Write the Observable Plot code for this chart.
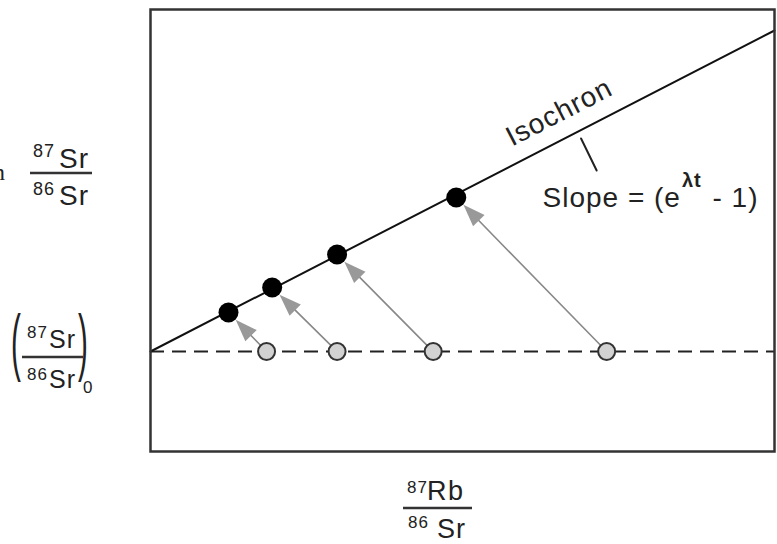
<!DOCTYPE html>
<html><head><meta charset="utf-8">
<script src="https://cdn.jsdelivr.net/npm/d3@7"></script>
<script src="https://cdn.jsdelivr.net/npm/@observablehq/plot@0.6"></script>
<style>
body{margin:0;background:#fff}
svg{display:block}
</style>
</head><body><div id="chart"></div>
<script>
// ---- data ----
const initialRatio = 0.70;                       // (87Sr/86Sr)0
const isoX = [0, 10];                            // isochron end points
const isoY = [0.70, 0.7321];
const rbSrInitial = [1.86, 2.99, 4.53, 7.31];    // open circles (t = 0)
const rbSrNow     = [1.25, 1.95, 2.99, 4.90];    // black points (today)
const srSrNow     = [0.7039, 0.7064, 0.7097, 0.7154];
const calloutX = [6.90, 7.15];                   // short pointer to "Isochron"
const calloutY = [0.7213, 0.7181];
const xDomain = [0, 10];
const yDomain = [0.69, 0.7342];

const isochron = isoX.map((x, i) => ({x, y: isoY[i]}));
const callout = calloutX.map((x, i) => ({x, y: calloutY[i]}));
const samples = rbSrInitial.map((x0, i) => ({x0, y0: initialRatio, x1: rbSrNow[i], y1: srSrNow[i]}));

const FONT = "'Liberation Sans', Arial, sans-serif";
const INK = "#222";

const heads = (index, scales) => {
  const g = d3.create("svg:g").attr("fill", "#999").attr("stroke", "none");
  for (const s of samples) {
    const ax = scales.x(s.x0), ay = scales.y(s.y0), bx = scales.x(s.x1), by = scales.y(s.y1);
    const L = Math.hypot(bx - ax, by - ay), ux = (bx - ax) / L, uy = (by - ay) / L;
    const tx = bx - ux * 11, ty = by - uy * 11;
    const cx = tx - ux * 22, cy = ty - uy * 22;
    const px = -uy * 8, py = ux * 8;
    g.append("polygon").attr("points", `${tx},${ty} ${cx + px},${cy + py} ${cx - px},${cy - py}`);
  }
  return g.node();
};

const chart = Plot.plot({
  width: 777,
  height: 544,
  marginLeft: 150,
  marginRight: 3,
  marginTop: 9,
  marginBottom: 93,
  x: {domain: xDomain, axis: null},
  y: {domain: yDomain, axis: null},
  style: {fontFamily: FONT, background: "#fff"},
  marks: [
    Plot.ruleY([initialRatio], {stroke: INK, strokeWidth: 2, strokeDasharray: "14,8"}),
    Plot.line(isochron, {x: "x", y: "y", stroke: "#111", strokeWidth: 2}),
    Plot.line(callout, {x: "x", y: "y", stroke: INK, strokeWidth: 2}),
    Plot.arrow(samples, {x1: "x0", y1: "y0", x2: "x1", y2: "y1", stroke: "#888", strokeWidth: 1.6,
      headLength: 0, insetStart: 8, insetEnd: 28}),
    heads,
    Plot.dot(samples, {x: "x0", y: "y0", r: 8.5, fill: "#d2d2d2", stroke: "#333", strokeWidth: 2}),
    Plot.dot(samples, {x: "x1", y: "y1", r: 10, fill: "#000", stroke: "none"}),
    Plot.frame({stroke: "#333", strokeWidth: 2.5})
  ]
});
document.getElementById("chart").append(chart);

const svg = d3.select(chart);
const xs = chart.scale("x"), ys = chart.scale("y");

function txt(x, y, s, size, extra = {}) {
  const t = svg.append("text").attr("x", x).attr("y", y).attr("font-size", size)
    .attr("font-family", extra.family ?? FONT).attr("fill", INK)
    .attr("letter-spacing", extra.ls ?? 1).attr("text-anchor", extra.anchor ?? "start").text(s);
  if (extra.transform) t.attr("transform", extra.transform);
  return t;
}
function bar(x1, x2, y) {
  svg.append("line").attr("x1", x1).attr("x2", x2).attr("y1", y).attr("y2", y)
    .attr("stroke", "#333").attr("stroke-width", 2.5);
}

// Isochron label, rotated along the line
const p0 = [xs.apply(isoX[0]), ys.apply(isoY[0])], p1 = [xs.apply(isoX[1]), ys.apply(isoY[1])];
const ang = Math.atan2(p1[1] - p0[1], p1[0] - p0[0]) * 180 / Math.PI;
const lx = 6.74, ly = isoY[0] + (isoY[1] - isoY[0]) * (lx - isoX[0]) / (isoX[1] - isoX[0]);
svg.append("text").attr("transform", `translate(${xs.apply(lx)},${ys.apply(ly)}) rotate(${ang})`)
  .attr("y", -16).attr("text-anchor", "middle").attr("font-size", 28).attr("letter-spacing", 1)
  .attr("font-family", FONT).attr("fill", INK).text("Isochron");

// Slope label
const sl = svg.append("text").attr("x", xs.apply(6.29)).attr("y", ys.apply(0.7144))
  .attr("text-anchor", "start")
  .attr("font-size", 28).attr("letter-spacing", 1).attr("font-family", FONT).attr("fill", INK);
sl.append("tspan").text("Slope = (e");
sl.append("tspan").attr("font-size", 20).attr("font-weight", "bold").attr("dx", 1).attr("dy", -20).text("λt");
sl.append("tspan").attr("dy", 20).attr("dx", 2).text(" - 1)");

// stray cropped letter at the left edge
txt(5, 180, "n", 24, {anchor: "end", family: "'Liberation Serif', serif", ls: 0});

// y-axis label 87Sr/86Sr
txt(33, 157, "87", 18);
txt(59, 168, "Sr", 28);
bar(30, 92, 173);
txt(33, 195, "86", 18);
txt(59, 205, "Sr", 28);

// initial ratio label (87Sr/86Sr)0
txt(0, 0, "(", 74, {ls: 0, transform: "translate(11,367) scale(0.4,1)"});
txt(0, 0, ")", 74, {ls: 0, transform: "translate(78,367) scale(0.4,1)"});
txt(27, 338, "87", 17);
txt(49, 348, "Sr", 25);
bar(22, 83, 357);
txt(27, 380, "86", 17);
txt(49, 388, "Sr", 25);
txt(83, 393, "0", 17);

// x-axis label 87Rb/86Sr
txt(407, 493, "87", 17);
txt(427, 500, "Rb", 27, {ls: 1.5});
bar(403, 472, 508);
txt(408, 528, "86", 17);
txt(437, 538, "Sr", 27);
</script>
</body></html>
